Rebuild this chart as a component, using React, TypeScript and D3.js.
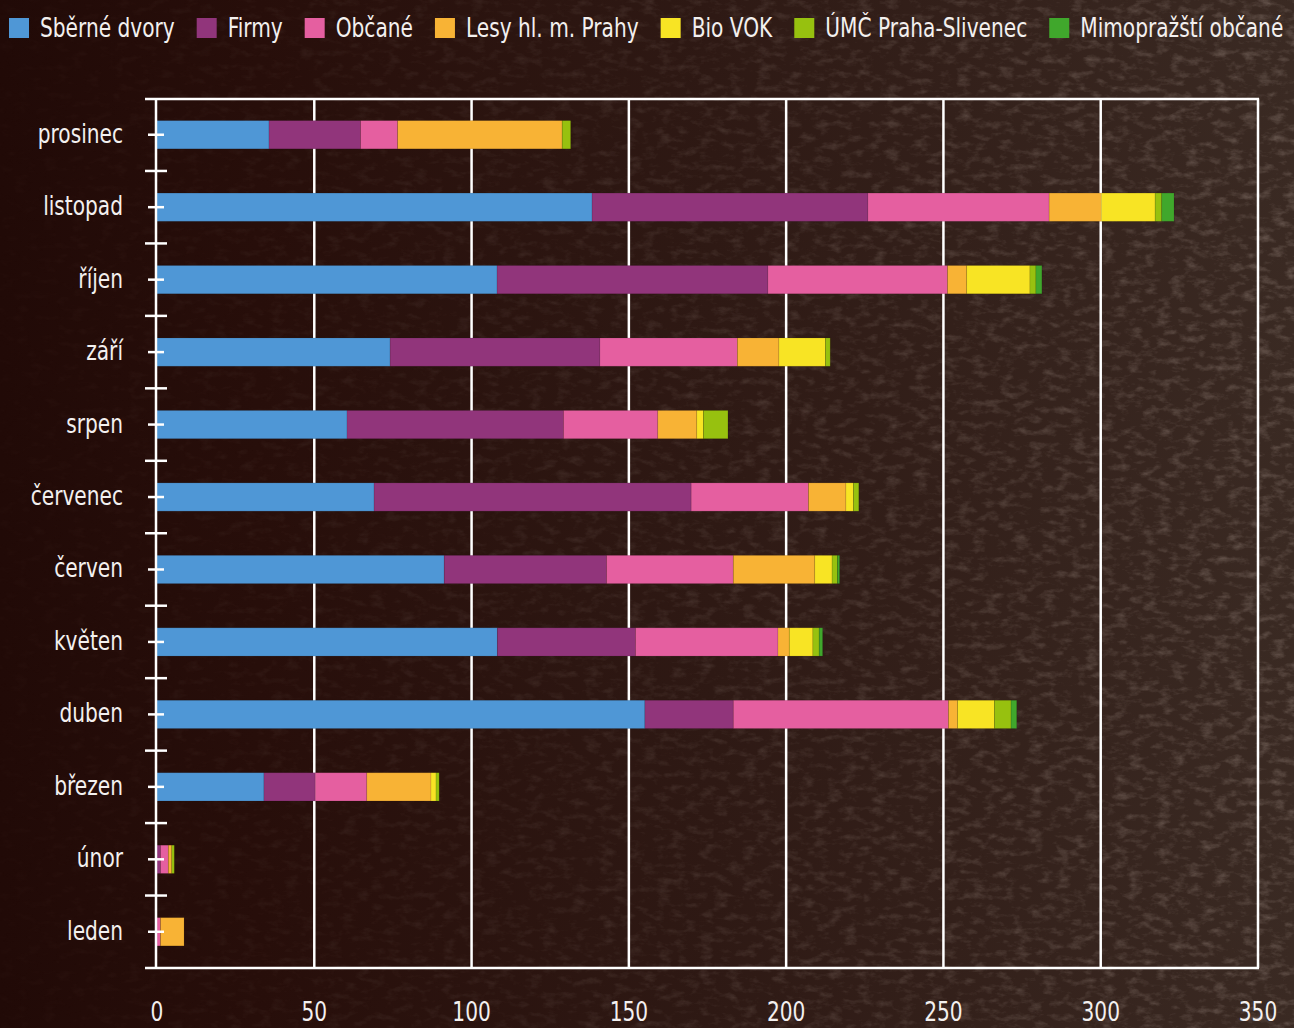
import React, { useEffect, useRef } from "react";
import * as d3 from "d3";

const months = ["prosinec", "listopad", "říjen", "září", "srpen", "červenec", "červen", "květen", "duben", "březen", "únor", "leden"];
const seriesNames = ["Sběrné dvory", "Firmy", "Občané", "Lesy hl. m. Prahy", "Bio VOK", "ÚMČ Praha-Slivenec", "Mimopražští občané"];
const seriesColors = ["#4f97d6", "#91357b", "#e55fa0", "#f8b335", "#f8e424", "#97c10f", "#40a72c"];

const sberneDvory = [35.6, 138.3, 108.1, 74.1, 60.4, 69.0, 91.3, 108.2, 155.1, 34.0, 0, 0];
const firmy = [29.1, 87.7, 86.1, 66.7, 68.8, 100.8, 51.6, 43.9, 28.1, 16.3, 1.1, 0];
const obcane = [11.8, 57.6, 57.1, 43.7, 30.0, 37.3, 40.3, 45.3, 68.4, 16.4, 2.5, 1.1];
const lesy = [52.3, 16.6, 6.1, 13.2, 12.4, 11.9, 25.9, 3.6, 2.9, 20.4, 1.1, 7.5];
const bioVok = [0, 17.1, 20.1, 14.8, 2.1, 2.4, 5.5, 7.5, 11.7, 1.6, 0, 0];
const umc = [2.7, 2.1, 1.9, 1.5, 7.8, 1.7, 1.7, 2.0, 5.3, 1.0, 0.8, 0];
const mimo = [0, 3.9, 1.9, 0, 0, 0, 0.7, 1.1, 1.8, 0, 0, 0];

const xTicks = [0, 50, 100, 150, 200, 250, 300, 350];

const W = 1294;
const H = 1028;
const FONT = "'DejaVu Sans Condensed', 'DejaVu Sans', sans-serif";
const TEXT_COLOR = "#f3f0ef";
const SX = 0.83;

export default function App() {
  const ref = useRef<SVGSVGElement>(null);

  useEffect(() => {
    const svg = d3.select(ref.current);
    svg.selectAll("*").remove();

    const defs = svg.append("defs");
    const bg = defs.append("linearGradient").attr("id", "bg").attr("x1", 0).attr("x2", 1).attr("y1", 0).attr("y2", 0);
    bg.append("stop").attr("offset", "0%").attr("stop-color", "#210a07");
    bg.append("stop").attr("offset", "20%").attr("stop-color", "#270e0a");
    bg.append("stop").attr("offset", "55%").attr("stop-color", "#2e1914");
    bg.append("stop").attr("offset", "100%").attr("stop-color", "#3a2a23");

    const filt = defs.append("filter").attr("id", "tex").attr("x", 0).attr("y", 0).attr("width", "100%").attr("height", "100%");
    filt.append("feTurbulence").attr("type", "fractalNoise").attr("baseFrequency", "0.07 0.14").attr("numOctaves", 4).attr("seed", 3).attr("result", "n");
    filt.append("feColorMatrix").attr("in", "n").attr("type", "matrix")
      .attr("values", "0 0 0 0 0.5  0 0 0 0 0.4  0 0 0 0 0.35  1.8 0 0 0 -0.85");

    const maskGrad = defs.append("linearGradient").attr("id", "mg").attr("x1", 0).attr("x2", 1).attr("y1", 0).attr("y2", 0);
    maskGrad.append("stop").attr("offset", "0%").attr("stop-color", "#fff").attr("stop-opacity", 0.03);
    maskGrad.append("stop").attr("offset", "45%").attr("stop-color", "#fff").attr("stop-opacity", 0.15);
    maskGrad.append("stop").attr("offset", "100%").attr("stop-color", "#fff").attr("stop-opacity", 0.4);
    const mask = defs.append("mask").attr("id", "m");
    mask.append("rect").attr("width", W).attr("height", H).attr("fill", "url(#mg)");

    svg.append("rect").attr("width", W).attr("height", H).attr("fill", "url(#bg)");
    svg.append("rect").attr("width", W).attr("height", H).attr("filter", "url(#tex)").attr("mask", "url(#m)");

    const x = d3.scaleLinear().domain([0, 350]).range([157, 1258]);
    const y = d3.scaleBand<string>().domain(months).range([98.5, 968]).padding(0);
    const barH = y.bandwidth() * 0.39;

    const seriesValues = [sberneDvory, firmy, obcane, lesy, bioVok, umc, mimo];
    const table = months.map((m, i) => {
      const row: any = { month: m };
      seriesNames.forEach((s, j) => (row[s] = seriesValues[j][i]));
      return row;
    });
    const stack = d3.stack<any>().keys(seriesNames)(table);

    const addText = (sel: any, tx: number, ty: number, txt: string, anchor: string, size: number) =>
      sel.append("text")
        .attr("transform", `translate(${tx},${ty}) scale(${SX},1)`)
        .attr("text-anchor", anchor)
        .attr("font-family", FONT).attr("font-size", size).attr("fill", TEXT_COLOR)
        .text(txt);

    // grid
    const g = svg.append("g");
    g.selectAll("line.grid").data(xTicks.filter((t) => t > 0)).join("line")
      .attr("x1", (d) => x(d)).attr("x2", (d) => x(d))
      .attr("y1", 98.5).attr("y2", 968)
      .attr("stroke", "#fff").attr("stroke-width", 2.5);
    g.append("line").attr("x1", 145).attr("x2", 1259).attr("y1", 99).attr("y2", 99).attr("stroke", "#fff").attr("stroke-width", 2.5);
    g.append("line").attr("x1", 145).attr("x2", 1259).attr("y1", 968).attr("y2", 968).attr("stroke", "#fff").attr("stroke-width", 2.5);

    // bars
    stack.forEach((layer, j) => {
      svg.append("g").selectAll("rect").data(layer).join("rect")
        .attr("x", (d) => x(d[0]))
        .attr("width", (d) => Math.max(0, x(d[1]) - x(d[0])))
        .attr("y", (d) => (y(d.data.month) as number) + (y.bandwidth() - barH) / 2)
        .attr("height", barH)
        .attr("fill", seriesColors[j])
        .attr("stroke", (d) => (d[1] - d[0] > 0 ? "rgba(0,0,0,0.12)" : "none"))
        .attr("stroke-width", 0.8);
    });

    // y axis
    const ya = svg.append("g");
    ya.append("line").attr("x1", 156).attr("x2", 156).attr("y1", 98).attr("y2", 969).attr("stroke", "#fff").attr("stroke-width", 2.5);
    const bounds = months.map((m) => y(m) as number).concat([968]);
    ya.selectAll("line.b").data(bounds.slice(1, -1)).join("line")
      .attr("x1", 145).attr("x2", 167).attr("y1", (d) => d).attr("y2", (d) => d)
      .attr("stroke", "#fff").attr("stroke-width", 2.5);
    ya.selectAll("line.c").data(months).join("line")
      .attr("x1", 148).attr("x2", 164)
      .attr("y1", (d) => (y(d) as number) + y.bandwidth() / 2)
      .attr("y2", (d) => (y(d) as number) + y.bandwidth() / 2)
      .attr("stroke", "#fff").attr("stroke-width", 2.5);
    months.forEach((m) => addText(ya, 123, (y(m) as number) + y.bandwidth() / 2 + 8, m, "end", 27));

    // x tick labels
    const xl = svg.append("g");
    xTicks.forEach((t) => addText(xl, x(t), 1021, String(t), "middle", 27));

    // legend
    const lg = svg.append("g");
    let cx = 9;
    seriesNames.forEach((name, j) => {
      lg.append("rect").attr("x", cx).attr("y", 18).attr("width", 20).attr("height", 20).attr("fill", seriesColors[j]);
      const t = addText(lg, cx + 31, 37, name, "start", 27);
      const w = (t.node() as SVGTextElement).getComputedTextLength() * SX;
      cx = cx + 31 + w + 22;
    });
  }, []);

  return (
    <svg ref={ref} width={W} height={H} style={{ position: "absolute", left: 0, top: 0, display: "block" }} />
  );
}
